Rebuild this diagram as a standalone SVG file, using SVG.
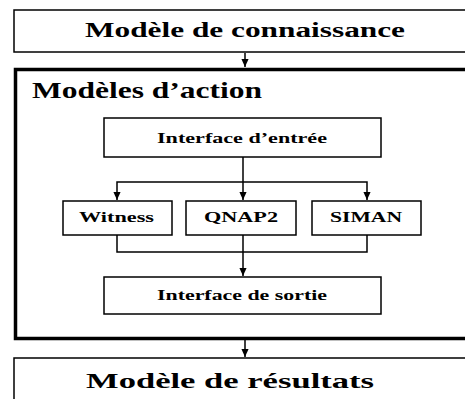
<svg xmlns="http://www.w3.org/2000/svg" width="465" height="399" viewBox="0 0 465 399">
<style>
text{font-family:"Liberation Serif","Times New Roman",serif;font-weight:bold;fill:#000;}
.box{fill:#fff;stroke:#000;stroke-width:1.5;}
.thick{fill:#fff;stroke:#000;stroke-width:3.5;}
.c{fill:none;stroke:#000;stroke-width:1.5;}
</style>
<defs>
<marker id="a" markerUnits="userSpaceOnUse" markerWidth="8" markerHeight="9" refX="9" refY="4" orient="auto-start-reverse" viewBox="0 0 9 8">
<path d="M0,0 L9,4 L0,8 Z" fill="#000"/>
</marker>
</defs>
<g id="modele-connaissance">
<rect class="box" x="14" y="10" width="460" height="42"/>
<text x="85" y="37" font-size="20" textLength="320" lengthAdjust="spacingAndGlyphs">Modèle de connaissance</text>
</g>
<g id="modeles-action">
<rect class="thick" x="15.5" y="69.5" width="460" height="269"/>
<text x="32" y="98" font-size="24" textLength="230" lengthAdjust="spacingAndGlyphs">Modèles d’action</text>
</g>
<g id="interface-entree">
<rect class="box" x="104" y="118" width="277" height="39"/>
<text x="157" y="143" font-size="15" textLength="170" lengthAdjust="spacingAndGlyphs">Interface d’entrée</text>
</g>
<g id="witness">
<rect class="box" x="63" y="201" width="109" height="34"/>
<text x="79" y="222" font-size="15" textLength="75" lengthAdjust="spacingAndGlyphs">Witness</text>
</g>
<g id="qnap2">
<rect class="box" x="186" y="201" width="110" height="34"/>
<text x="204" y="222" font-size="15" textLength="74" lengthAdjust="spacingAndGlyphs">QNAP2</text>
</g>
<g id="siman">
<rect class="box" x="312" y="201" width="109" height="34"/>
<text x="330" y="222" font-size="15" textLength="72" lengthAdjust="spacingAndGlyphs">SIMAN</text>
</g>
<g id="interface-sortie">
<rect class="box" x="104" y="277" width="277" height="37"/>
<text x="157" y="300" font-size="15" textLength="170" lengthAdjust="spacingAndGlyphs">Interface de sortie</text>
</g>
<g id="modele-resultats">
<rect class="box" x="14" y="358" width="460" height="60"/>
<text x="86" y="388" font-size="22" textLength="288" lengthAdjust="spacingAndGlyphs">Modèle de résultats</text>
</g>
<g id="connectors">
<line class="c" x1="245" y1="53" x2="245" y2="67" marker-end="url(#a)"/>
<line class="c" x1="243" y1="157" x2="243" y2="200" marker-end="url(#a)"/>
<polyline class="c" points="117,200 117,182 367,182 367,200" marker-start="url(#a)" marker-end="url(#a)"/>
<polyline class="c" points="117,235 117,252 367,252 367,235"/>
<line class="c" x1="243" y1="235" x2="243" y2="276" marker-end="url(#a)"/>
<line class="c" x1="245" y1="340" x2="245" y2="357" marker-end="url(#a)"/>
</g>
</svg>
